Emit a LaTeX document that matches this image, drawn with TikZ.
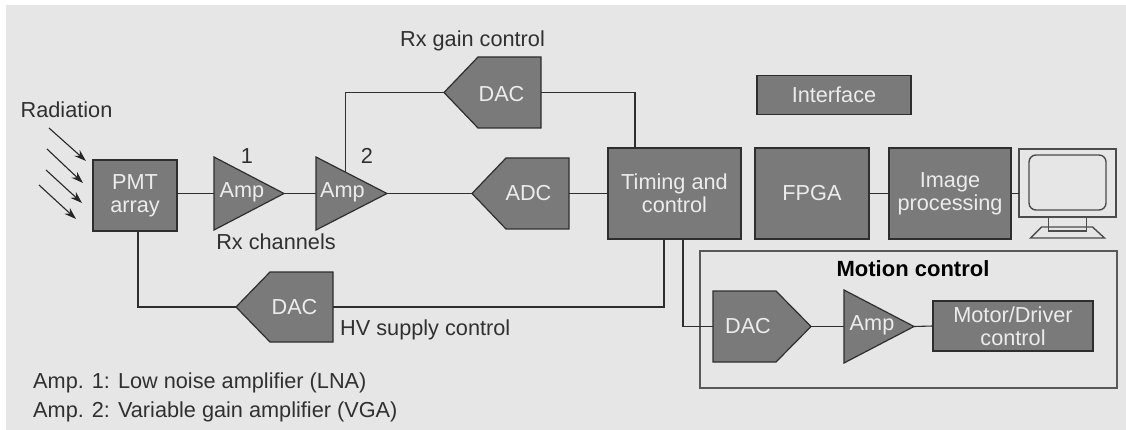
\documentclass[tikz,border=0pt]{standalone}
\usepackage{fontspec}
\setmainfont{Liberation Sans}
\usetikzlibrary{calc,arrows.meta}
\pgfdeclarelayer{shapes}
\pgfsetlayers{shapes,main}
\definecolor{pagegray}{HTML}{E6E6E6}
\definecolor{blockgray}{HTML}{7A7A7A}
\definecolor{edgegray}{HTML}{2E2E2E}
\definecolor{lightText}{HTML}{ECECEC}
\definecolor{darkText}{HTML}{303030}
\tikzset{
  wire/.style={draw=edgegray,line width=1.1pt},
  rayarrow/.style={draw=black!85,line width=1.1pt,-{Stealth[length=12pt,width=8pt]}},
  blockbox/.style={draw=edgegray,fill=blockgray,line width=1.2pt,text=lightText,inner sep=0pt,outer sep=0pt,align=center,font=\fontsize{21.7}{23}\selectfont},
  ghostbox/.style={inner sep=0pt,outer sep=0pt},
  blocktext/.style={text=lightText,inner sep=0pt,font=\fontsize{21.7}{23}\selectfont},
  shapeline/.style={draw=edgegray,fill=blockgray,line width=1.2pt,line join=miter},
  plainlabel/.style={text=darkText,inner sep=0pt,font=\fontsize{21.7}{27}\selectfont},
  screenline/.style={draw=black!70,line width=1.4pt},
  motionframe/.style={draw=black!65,line width=1.5pt,inner sep=0pt,outer sep=0pt},
}
\newcommand{\pentleft}[2]{\begin{pgfonlayer}{shapes}\draw[shapeline] (#1.west) -- ($(#1.north west)+(#2,0)$) -- (#1.north east) -- (#1.south east) -- ($(#1.south west)+(#2,0)$) -- cycle;\end{pgfonlayer}}
\newcommand{\pentright}[2]{\begin{pgfonlayer}{shapes}\draw[shapeline] (#1.east) -- ($(#1.north east)-(#2,0)$) -- (#1.north west) -- (#1.south west) -- ($(#1.south east)-(#2,0)$) -- cycle;\end{pgfonlayer}}
\newcommand{\amptri}[1]{\begin{pgfonlayer}{shapes}\draw[shapeline] (#1.north west) -- (#1.east) -- (#1.south west) -- cycle;\end{pgfonlayer}}
\begin{document}
\begin{tikzpicture}[x=1pt,y=-1pt]
\useasboundingbox (0,0) rectangle (1126,430);
\begin{pgfonlayer}{shapes}
\fill[white] (0,0) rectangle (1126,430);
\fill[pagegray] (6,5) rectangle (1126,430);
\end{pgfonlayer}

% rectangular blocks
\node[blockbox,minimum width=84pt,minimum height=71pt] (pmt) at (135,195.5) {PMT\\array};
\node[blockbox,minimum width=133pt,minimum height=91pt] (timing) at (674.5,193.5) {Timing and\\control};
\node[blockbox,minimum width=114pt,minimum height=91pt] (fpga) at (812,193.5) {FPGA};
\node[blockbox,minimum width=122pt,minimum height=91pt] (img) at (950,193.5) {Image\\processing};
\node[blockbox,minimum width=154pt,minimum height=39pt] (iface) at (834,95) {Interface};
\node[blockbox,minimum width=160pt,minimum height=50pt] (motor) at (1013,326) {Motor/Driver\\control};

% amplifiers
\node[ghostbox,minimum width=70pt,minimum height=73pt,label={[blocktext,xshift=-7pt,yshift=1pt]center:Amp}] (amp1) at (249,193.5) {};
\amptri{amp1}
\node[ghostbox,minimum width=71pt,minimum height=73pt,label={[blocktext,xshift=-9pt,yshift=1pt]center:Amp}] (amp2) at (351.5,193.5) {};
\amptri{amp2}
\node[ghostbox,minimum width=70pt,minimum height=73pt,label={[blocktext,xshift=-7pt,yshift=1pt]center:Amp}] (amp3) at (879,326.5) {};
\amptri{amp3}

% converters
\node[ghostbox,minimum width=97pt,minimum height=71pt,label={[blocktext,xshift=9pt,yshift=-2pt]center:DAC}] (dac1) at (492.5,92.5) {};
\pentleft{dac1}{34}
\node[ghostbox,minimum width=97pt,minimum height=71pt,label={[blocktext,xshift=8pt]center:ADC}] (adc) at (520.5,193.5) {};
\pentleft{adc}{34}
\node[ghostbox,minimum width=97pt,minimum height=70pt,label={[blocktext,xshift=10pt]center:DAC}] (dac2) at (284.5,307) {};
\pentleft{dac2}{34}
\node[ghostbox,minimum width=98pt,minimum height=71pt,label={[blocktext,xshift=-14pt]center:DAC}] (dac3) at (762,326.5) {};
\pentright{dac3}{35}

% monitor
\node[ghostbox,screenline,draw,minimum width=97pt,minimum height=68pt] (mon) at (1067.5,183) {};
\node[ghostbox,screenline,draw,rounded corners=7pt,minimum width=77pt,minimum height=55pt] (screen) at (1067.5,182.5) {};
\node[ghostbox,screenline,draw,minimum width=38pt,minimum height=14pt,anchor=north] (neck) at (mon.south) {};
\coordinate (baseA) at ($(neck.south west)+(-18,7)$);
\coordinate (baseB) at ($(neck.south west)+(-7,-4)$);
\coordinate (baseC) at ($(neck.south east)+(6,-4)$);
\coordinate (baseD) at ($(neck.south east)+(18,7)$);
\draw[screenline] (baseA) -- (baseB) -- (baseC) -- (baseD) -- cycle;

% motion frame
\node[motionframe,minimum width=417pt,minimum height=137pt] (motion) at (908.5,319.5) {};

% labels
\node[plainlabel] (rad) at (66.5,110) {Radiation};
\node[plainlabel] (one) at (247,156) {1};
\node[plainlabel] (two) at (367,156) {2};
\node[plainlabel] (rxch) at (276,242) {Rx channels};
\node[plainlabel] (rxgain) at (472.5,41) {Rx gain control};
\node[plainlabel,anchor=west] (hv) at (340,330) {HV supply control};
\node[text=black,inner sep=0pt,font=\fontsize{22}{24}\selectfont\bfseries] (mlabel) at (913,269) {Motion control};
\node[plainlabel,anchor=west] (note1) at (33,383) {Amp. 1: Low noise amplifier (LNA)};
\node[plainlabel,anchor=west] (note2) at (33,412) {Amp. 2: Variable gain amplifier (VGA)};

% radiation arrows
\coordinate (r1s) at (49,128); \coordinate (r1e) at (86,161);
\coordinate (r2s) at (47,149); \coordinate (r2e) at (83,183);
\coordinate (r3s) at (46,170); \coordinate (r3e) at (82,203);
\coordinate (r4s) at (39,185); \coordinate (r4e) at (76,219);
\draw[rayarrow] (r1s) -- (r1e);
\draw[rayarrow] (r2s) -- (r2e);
\draw[rayarrow] (r3s) -- (r3e);
\draw[rayarrow] (r4s) -- (r4e);

% connectors
\draw[wire] (pmt.east |- amp1.west) -- (amp1.west);
\draw[wire] (amp1.east) -- (amp2.west);
\draw[wire] (amp2.east) -- (adc.west);
\draw[wire] (adc.east) -- (adc.east -| timing.west);
\draw[wire] ($(amp2.north west)!0.41!(amp2.east)$) |- (dac1.west);
\draw[wire] (dac1.east) -| ($(timing.north west)+(27,0)$);
\draw[wire] ($(pmt.south west)+(45,0)$) |- (dac2.west);
\draw[wire] (dac2.east) -| ($(timing.south west)+(56,0)$);
\draw[wire] ($(timing.south west)+(75,0)$) |- (dac3.west);
\draw[wire] (fpga.east) -- (img.west);
\draw[wire] (img.east) -- (img.east -| mon.west);
\draw[wire] (dac3.east) -- (amp3.west);
\draw[wire] (amp3.east) -- (motor.west);
\end{tikzpicture}
\end{document}
